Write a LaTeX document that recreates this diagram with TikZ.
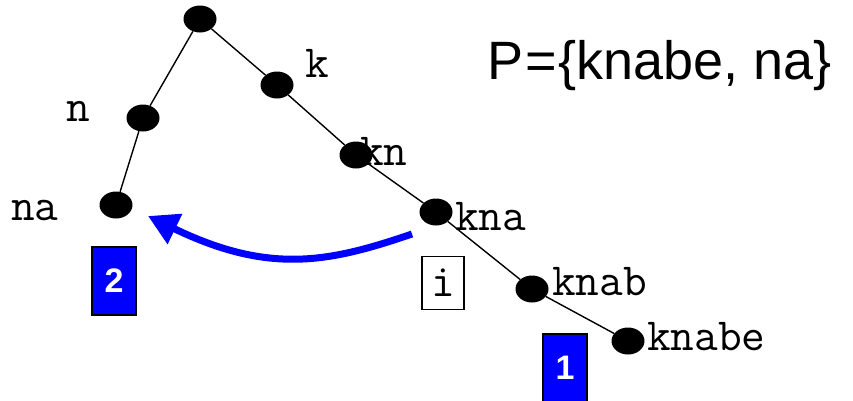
\documentclass[tikz,border=0pt]{standalone}
\usepackage{fontspec}
\newfontfamily\sansfont{Liberation Sans}
\usetikzlibrary{shapes.geometric,arrows.meta}
\begin{document}
\begin{tikzpicture}[x=1pt,y=-1pt,
  dot/.style={ellipse,fill=black,minimum width=33pt,minimum height=27pt,inner sep=0pt},
  lbl/.style={font=\ttfamily\fontsize{46}{46}\selectfont,inner sep=0pt,anchor=base west},
  numbox/.style={draw=black,line width=1.5pt,fill=blue,text=white,font=\sansfont\bfseries\fontsize{34}{34}\selectfont,minimum width=44pt,minimum height=68pt,inner sep=0pt},
  edge/.style={line width=1.4pt}]
\useasboundingbox (0,0) rectangle (853,400);
\node[dot] (r) at (200,19) {};
\node[dot] (k) at (277,85) {};
\node[dot] (n) at (143,118) {};
\node[dot] (kn) at (356,155) {};
\node[dot] (na) at (116,205) {};
\node[dot] (kna) at (436,212) {};
\node[dot] (knab) at (532,289) {};
\node[dot] (knabe) at (628,341) {};
\draw[edge] (r) -- (k) -- (kn) -- (kna) -- (knab) -- (knabe);
\draw[edge] (r) -- (n) -- (na);
\node[lbl] (lk) at (305,77) {k};
\node[lbl] (ln) at (66,121) {n};
\node[lbl] (lkn) at (360,165) {kn};
\node[lbl] (lna) at (11,220) {na};
\node[lbl] (lkna) at (455,230) {kna};
\node[lbl] (lknab) at (552,295) {knab};
\node[lbl] (lknabe) at (647,350) {knabe};
\node[font=\sansfont\fontsize{54}{54}\selectfont,inner sep=0pt,anchor=base west] (P) at (487,79) {P\kern2pt=\kern2pt\{knabe, na\}};
\node[numbox] (b2) at (114,281) {2};
\node[numbox,anchor=north] (b1) at (565,333) {1};
\node[draw=black,line width=1.2pt,fill=white,minimum width=42pt,minimum height=53pt,inner sep=0pt,font=\ttfamily\fontsize{46}{46}\selectfont] (bi) at (443,283) {i};
\coordinate (as) at (412,234);
\coordinate (ae) at (148,216);
\draw[blue,line width=7pt,-{Triangle[length=30pt,width=32pt]}] (as) .. controls (330,262) and (270,275) .. (ae);
\end{tikzpicture}
\end{document}
